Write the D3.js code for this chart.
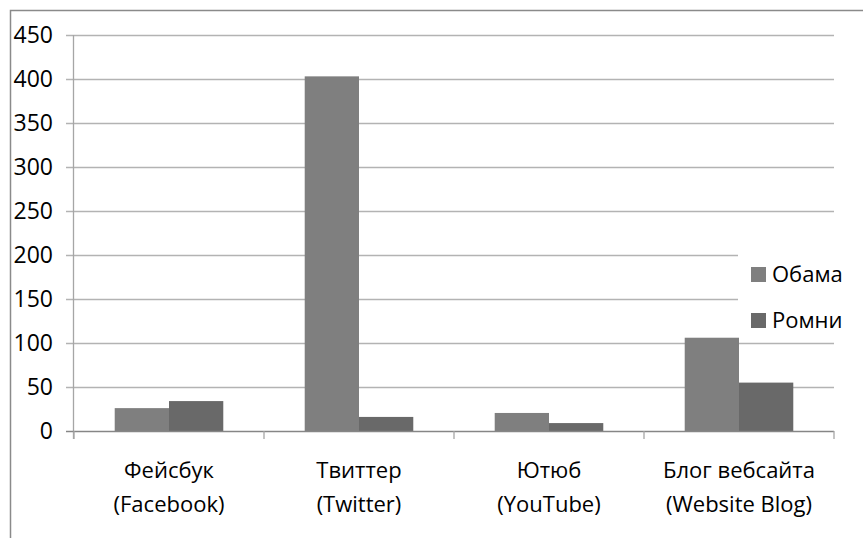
<!DOCTYPE html>
<html><head><meta charset="utf-8">
<script src="https://cdn.jsdelivr.net/npm/d3@7/dist/d3.min.js"></script>
<style>body{margin:0;background:#fff}svg{display:block}text{font-family:"Open Sans",sans-serif;fill:#000}</style>
</head><body>
<svg id="c" width="863" height="538"></svg>
<script>
const categories = [["Фейсбук","(Facebook)"],["Твиттер","(Twitter)"],["Ютюб","(YouTube)"],["Блог вебсайта","(Website Blog)"]];
const seriesNames = ["Обама","Ромни"];
const obama = [26, 403, 20.5, 106];
const romney = [34, 16, 9, 55];
const yTicks = [0,50,100,150,200,250,300,350,400,450];
const colors = ["#7f7f7f","#696969"];

const svg = d3.select("#c");
const L = 74, R = 834, T = 35, B = 431;
const x = d3.scaleBand().domain(d3.range(categories.length)).range([L,R]).paddingInner(0).paddingOuter(0);
const y = d3.scaleLinear().domain([0,450]).range([B,T]);
const inner = d3.scaleBand().domain([0,1]).range([0,x.bandwidth()]).paddingOuter(0.75).paddingInner(0);

// outer border
svg.append("path").attr("d","M10.5,538 L10.5,10.5 L863,10.5").attr("fill","none").attr("stroke","#8a8a8a").attr("stroke-width",1.5);

// gridlines
svg.append("g").selectAll("line").data(yTicks.filter(d=>d>0)).join("line")
  .attr("x1",L-8).attr("x2",R).attr("y1",d=>Math.round(y(d))+0.5).attr("y2",d=>Math.round(y(d))+0.5)
  .attr("stroke","#b3b3b3").attr("stroke-width",1.3);

// bars
const data = [obama, romney];
data.forEach((vals,si)=>{
  svg.append("g").selectAll("rect").data(vals).join("rect")
    .attr("x",(d,i)=>x(i)+inner(si)).attr("width",inner.bandwidth())
    .attr("y",d=>y(d)).attr("height",d=>B-y(d)).attr("fill",colors[si]);
});

// y axis
svg.append("line").attr("x1",L-0.5).attr("x2",L-0.5).attr("y1",T).attr("y2",B+8).attr("stroke","#a6a6a6").attr("stroke-width",1.3);
// x axis
svg.append("line").attr("x1",L-8).attr("x2",R).attr("y1",B+0.5).attr("y2",B+0.5).attr("stroke","#868686").attr("stroke-width",1.3);
// category ticks
svg.append("g").selectAll("line").data(d3.range(categories.length+1)).join("line")
  .attr("x1",d=>L+d*x.bandwidth()).attr("x2",d=>L+d*x.bandwidth()).attr("y1",B).attr("y2",B+8)
  .attr("stroke","#a6a6a6").attr("stroke-width",1.3);

// y labels
svg.append("g").selectAll("text").data(yTicks).join("text")
  .attr("x",53).attr("y",d=>y(d)).attr("dy","0.36em").attr("text-anchor","end")
  .attr("font-size",23).text(d=>d);

// category labels
const cg = svg.append("g").selectAll("text").data(categories).join("text")
  .attr("text-anchor","middle").attr("font-size",22);
cg.append("tspan").attr("x",(d,i)=>x(i)+x.bandwidth()/2).attr("y",478).text(d=>d[0]);
cg.append("tspan").attr("x",(d,i)=>x(i)+x.bandwidth()/2).attr("y",512).text(d=>d[1]);

// legend
const lg = svg.append("g");
lg.append("rect").attr("x",738).attr("y",250).attr("width",110).attr("height",85).attr("fill","#fff");
seriesNames.forEach((n,i)=>{
  const yy = 267 + i*46;
  lg.append("rect").attr("x",751).attr("y",yy).attr("width",15).attr("height",15).attr("fill",colors[i]);
  lg.append("text").attr("x",772).attr("y",yy+15).attr("font-size",22).text(n);
});
</script>
</body></html>
